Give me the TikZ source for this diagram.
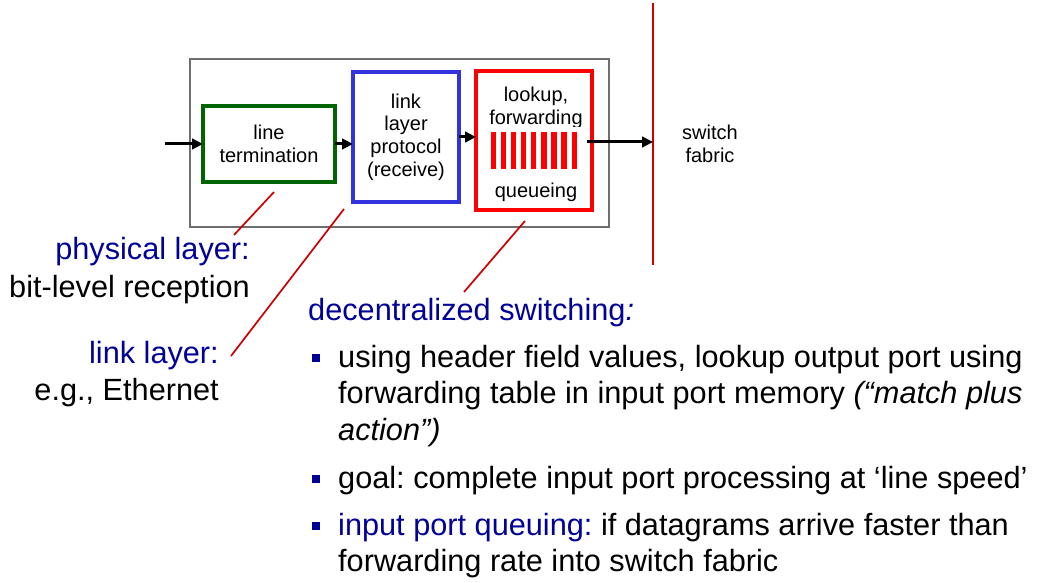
\documentclass[tikz,border=0pt]{standalone}
\usepackage{fontspec}
\setmainfont{Liberation Sans}
\usetikzlibrary{arrows.meta}

\definecolor{navy}{RGB}{0,0,153}
\definecolor{termgreen}{RGB}{0,100,0}
\definecolor{protoblue}{RGB}{51,51,221}
\definecolor{lookred}{RGB}{255,0,0}
\definecolor{calloutred}{RGB}{204,0,0}
\definecolor{fabricred}{RGB}{210,0,0}
\definecolor{portgray}{RGB}{110,110,110}

\begin{document}
\frenchspacing
\begin{tikzpicture}[x=1pt,y=-1pt,
  stage/.style={draw, line width=3.2pt, fill=white, inner sep=0pt, outer sep=0pt,
                align=center, font=\fontsize{20}{23.5}\selectfont},
  small/.style={inner sep=0pt, font=\fontsize{20}{23}\selectfont},
  flow/.style={line width=3pt, -{Triangle[length=11pt,width=10.5pt]}},
  callout/.style={draw=calloutred, line width=1.7pt},
  big/.style={inner sep=0pt, font=\fontsize{30.7}{36.5}\selectfont},
  bul/.style={fill=navy, minimum size=8.5pt, inner sep=0pt, outer sep=0pt}
]
\useasboundingbox (0,0) rectangle (1037,583);

% input port enclosure
\node[draw=portgray, line width=2.6pt, minimum width=419pt, minimum height=168pt,
      inner sep=0pt] (port) at (399.5,143) {};

% processing stages
\node[stage, draw=termgreen, minimum width=132pt, minimum height=76pt]
  (lt) at (269,144) {line\\termination};
\node[stage, draw=protoblue, minimum width=106pt, minimum height=130pt,
      font=\fontsize{20}{22.7}\selectfont]
  (llp) at (406,137) {link\\layer\\protocol\\(receive)};
\node[stage, draw=lookred, line width=3.5pt, minimum width=116pt, minimum height=139pt]
  (lfq) at (534,140.5) {};

\node[small, anchor=base] (lfqtop) at (536,102)
  {\parbox[t]{110pt}{\centering lookup,\\forwarding}};
\node[small, anchor=base] (lfqbot) at (536,197) {queueing};

% queue of packets
\fill[white] (487,127) rectangle (586,172);
\foreach \i in {0,...,8}
  \fill[lookred] ({490.7+\i*10.1},131.7) rectangle ({496+\i*10.1},169);

% switch fabric boundary
\coordinate (fabtop) at (653,3);
\coordinate (fabbot) at (653,265);
\draw[fabricred, line width=1.4pt] (fabtop) -- (fabbot);
\node[small, anchor=base] (fabric) at (710,140)
  {\parbox[t]{80pt}{\centering switch\\fabric}};

% datagram flow
\coordinate (inp) at (165,144);
\coordinate (qout) at (587,142);
\coordinate (fabin) at (653,142);
\draw[flow] (inp) -- (lt.west);
\draw[flow] (lt.east) -- (lt.east -| llp.west);
\draw[flow] (llp.east) -- (llp.east -| lfq.west);
\draw[flow] (qout) -- (fabin);

% left-hand labels
\node[big, anchor=base east, text=navy] (phys) at (250,259) {physical layer:};
\node[big, anchor=base east] (bitlvl) at (250,297) {bit-level reception};
\node[big, anchor=base east, text=navy] (linkl) at (219,363) {link layer:};
\node[big, anchor=base east] (eth) at (219,400) {e.g., Ethernet};

% callout lines
\coordinate (c1a) at (274,192);
\coordinate (c1b) at (234,235);
\coordinate (c2a) at (344,209);
\coordinate (c2b) at (231,356);
\coordinate (c3a) at (525,221);
\coordinate (c3b) at (464,292);
\draw[callout] (c1a) -- (c1b);
\draw[callout] (c2a) -- (c2b);
\draw[callout] (c3a) -- (c3b);

% decentralized switching notes
\node[big, anchor=base west, text=navy] (dec) at (308,320)
  {decentralized switching\textit{:}};

\node[bul] (bul1) at (316,358) {};
\node[bul] (bul2) at (316,479) {};
\node[bul] (bul3) at (316,526) {};

\node[big, anchor=base west] (item1) at (338,367)
  {\parbox[t]{700pt}{using header field values, lookup output port using\\
   forwarding table in input port memory \textit{(“match plus\\action”)}}};
\node[big, anchor=base west] (item2) at (338,488)
  {goal: complete input port processing at ‘line speed’};
\node[big, anchor=base west] (item3) at (338,535)
  {\parbox[t]{700pt}{\textcolor{navy}{input port queuing:} if datagrams arrive faster than\\
   forwarding rate into switch fabric}};
\end{tikzpicture}
\end{document}
